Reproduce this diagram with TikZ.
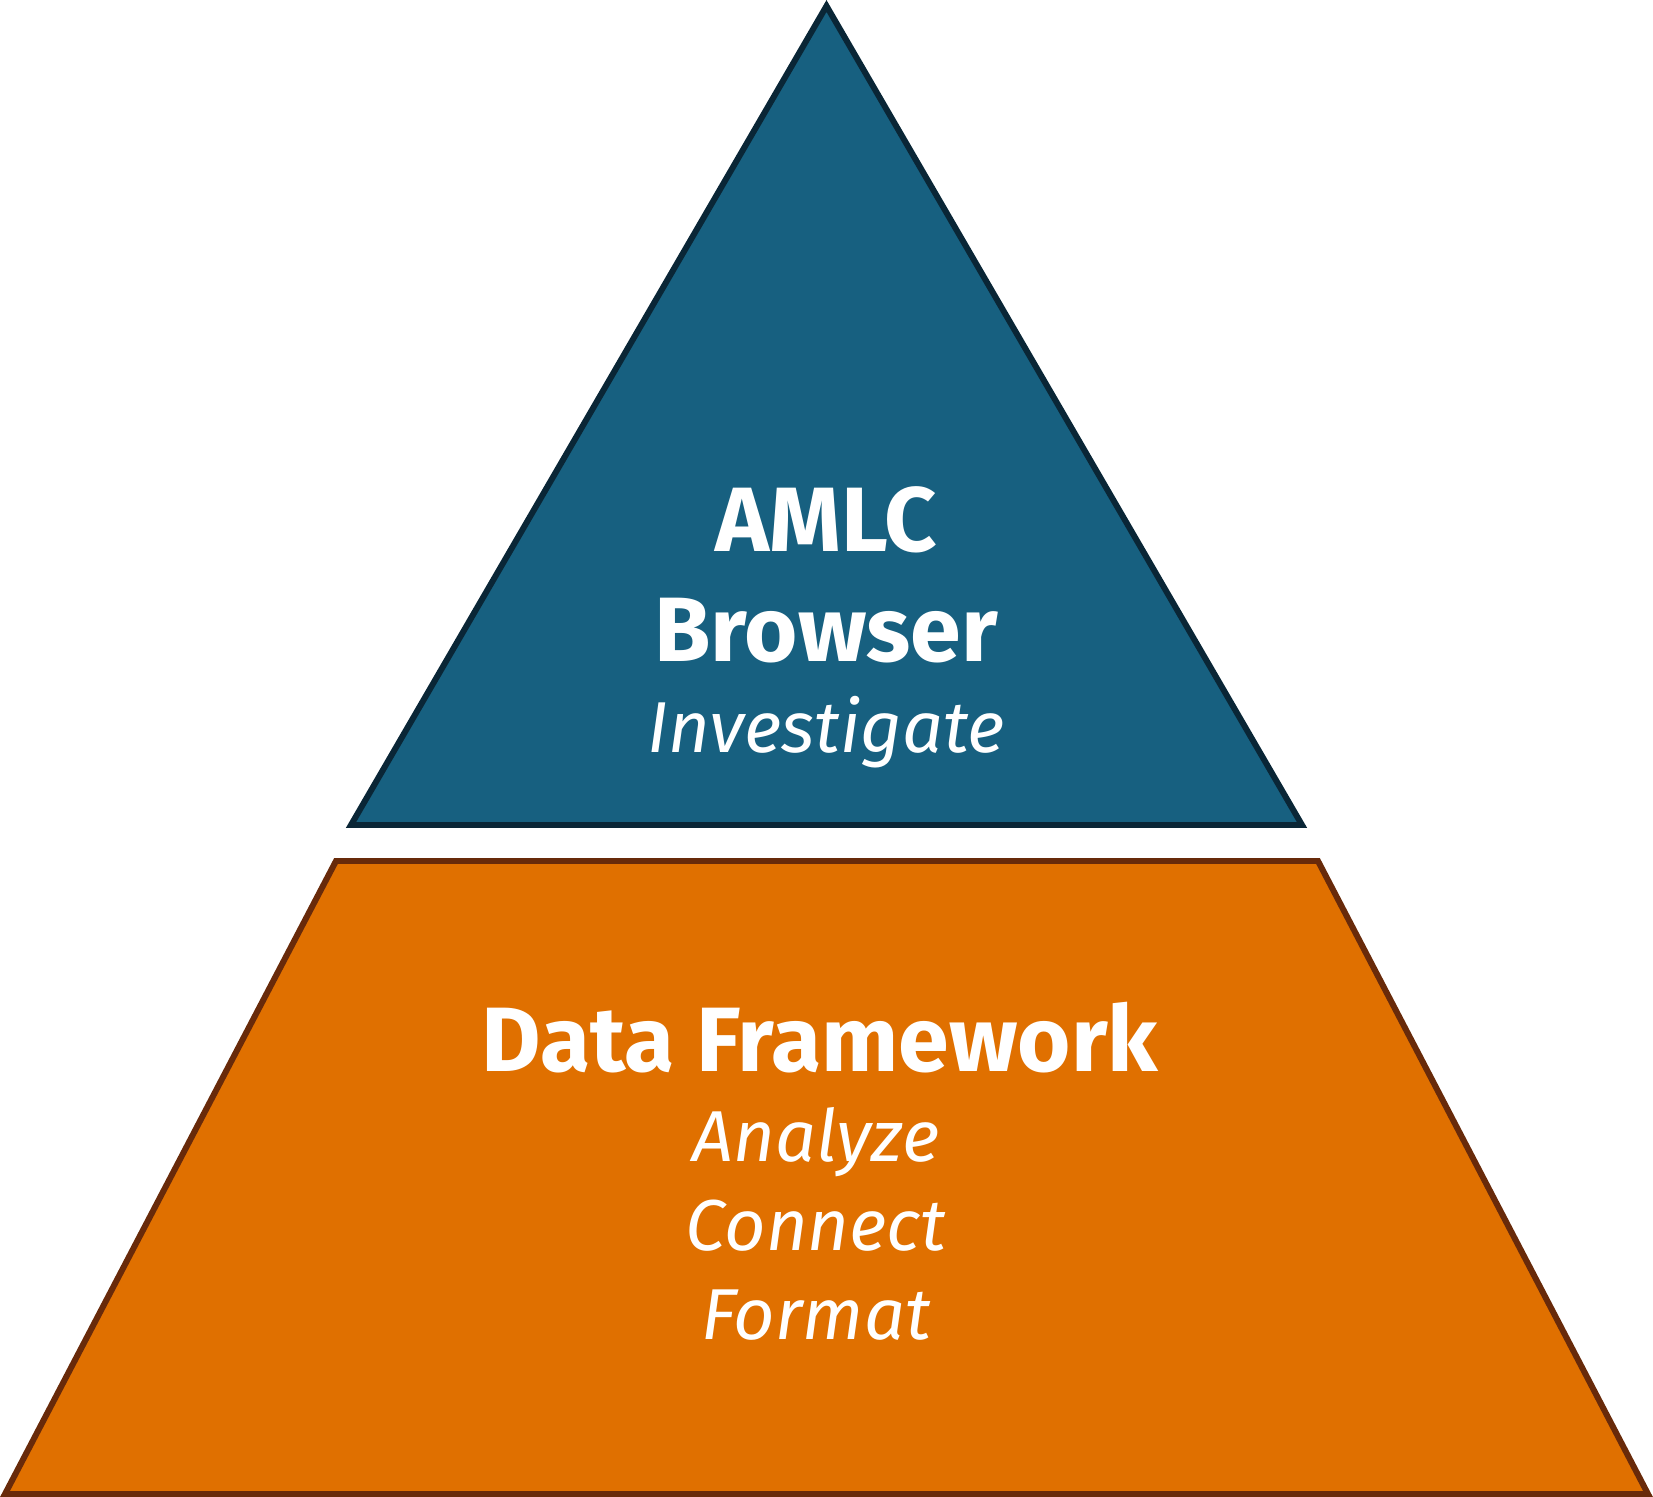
\documentclass[tikz,border=0pt]{standalone}
\usepackage{fontspec}
\setmainfont{Fira Sans}
\usepackage{tikz}

\definecolor{browserblue}{RGB}{23,96,128}
\definecolor{browseredge}{RGB}{10,38,54}
\definecolor{frameorange}{RGB}{224,112,0}
\definecolor{frameedge}{RGB}{104,42,10}

\tikzset{
  layer/.style={line width=1.7pt, line join=miter},
  title/.style={text=white, font=\bfseries\fontsize{26}{30}\selectfont, anchor=base, inner sep=0pt},
  task/.style={text=white, font=\itshape\fontsize{20.5}{24}\selectfont, anchor=base, inner sep=0pt}
}

\begin{document}
\begin{tikzpicture}[x=0.01cm, y=-0.01cm]
      \useasboundingbox (0,0) rectangle (1653,1497);
      %capa superior
      \draw[layer, fill=browserblue, draw=browseredge] (826.5,6) -- (1302,825) -- (351,825) -- cycle;
      %capa inferior
      \draw[layer, fill=frameorange, draw=frameedge] (336,861) -- (1318,861) -- (1648,1494) -- (5,1494) -- cycle;
      %textos
      \node[title] (amlc) at (826,551) {AMLC};
      \node[title] (browser) at (826,662) {Browser};
      \node[task] (investigate) at (826,753) {Investigate};
      \node[title] (dataFw) at (820,1071) {Data Framework};
      \node[task] (analyze) at (816,1162) {Analyze};
      \node[task] (connect) at (816,1251) {Connect};
      \node[task] (format) at (816,1340) {Format};
  \end{tikzpicture}
\end{document}
